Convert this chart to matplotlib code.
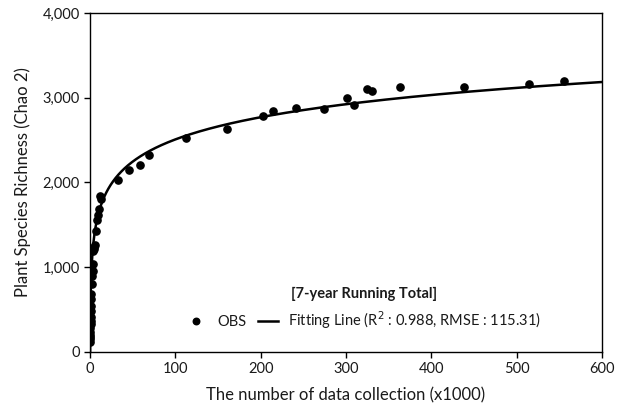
import numpy as np
import matplotlib
matplotlib.use("Agg")
import matplotlib.pyplot as plt

plt.rcParams['font.family'] = ['Lato', 'DejaVu Sans']

# Observed points (x in thousands, Chao 2 richness)
obs_x = [0.3, 0.3, 0.4, 0.4, 0.5, 0.5, 0.6, 0.7, 0.8, 0.9, 1.0, 1.2, 1.4, 1.8, 2.2,
         3.2, 3.6, 4.0, 4.5, 4.8, 5.5, 6.9, 8.1, 9.7, 10.9, 12.1, 12.9,
         32.3, 45.3, 58.2, 69.5, 112.7, 161.0, 202.8, 214.0, 241.6, 274.0,
         301.8, 309.0, 325.0, 330.5, 363.6, 438.4, 515.0, 555.6]
obs_y = [117, 150, 176, 205, 234, 280, 332, 370, 410, 480, 546, 620, 683, 800, 900,
         956, 1034, 1190, 1210, 1237, 1260, 1425, 1561, 1620, 1682, 1835, 1803,
         2026, 2143, 2209, 2326, 2521, 2635, 2779, 2849, 2877, 2865,
         2998, 2916, 3099, 3084, 3126, 3123, 3166, 3193]

# Logarithmic fitting line coefficients (y = a + b ln x)
fit_a = 767.0
fit_b = 378.0

text_color = '#1a1a1a'

fig = plt.figure(figsize=(6.23, 4.18), dpi=100)
ax = fig.add_axes([0.1445, 0.158, 0.8215, 0.811])

xf = np.linspace(0.13, 600, 4000)
xf = np.concatenate([np.geomspace(0.13, 1, 200), xf[xf > 1]])
yf = fit_a + fit_b * np.log(xf)
ln, = ax.plot(xf, yf, color='black', lw=1.8, label='Fitting Line (R$^2$ : 0.988, RMSE : 115.31)', zorder=2)
sc, = ax.plot(obs_x, obs_y, 'o', color='black', ms=5.2, label='OBS', zorder=3)

ax.set_xlim(0, 600)
ax.set_ylim(0, 4000)
ax.set_xticks(range(0, 601, 100))
ax.set_yticks(range(0, 4001, 1000))
ax.set_yticklabels([f"{v:,}" for v in range(0, 4001, 1000)])
ax.tick_params(direction='out', length=4, width=1, labelsize=10.5, colors='black',
               labelcolor=text_color)
for s in ax.spines.values():
    s.set_linewidth(1.0)
    s.set_color('black')

ax.set_xlabel('The number of data collection (x1000)', fontsize=12, labelpad=8, color=text_color)
ax.set_ylabel('Plant Species Richness (Chao 2)', fontsize=12, labelpad=8, color=text_color)

leg = ax.legend(handles=[sc, ln], ncol=2, frameon=False, loc='center',
                bbox_to_anchor=(0.535, 0.127), fontsize=10.5,
                title='[7-year Running Total]', handlelength=1.4,
                columnspacing=0.8, handletextpad=0.7, markerscale=0.9,
                labelcolor=text_color)
leg.get_title().set_fontweight('bold')
leg.get_title().set_fontsize(10.5)
leg.get_title().set_color(text_color)
leg._legend_box.sep = 6

fig.savefig('out.png', dpi=100)
